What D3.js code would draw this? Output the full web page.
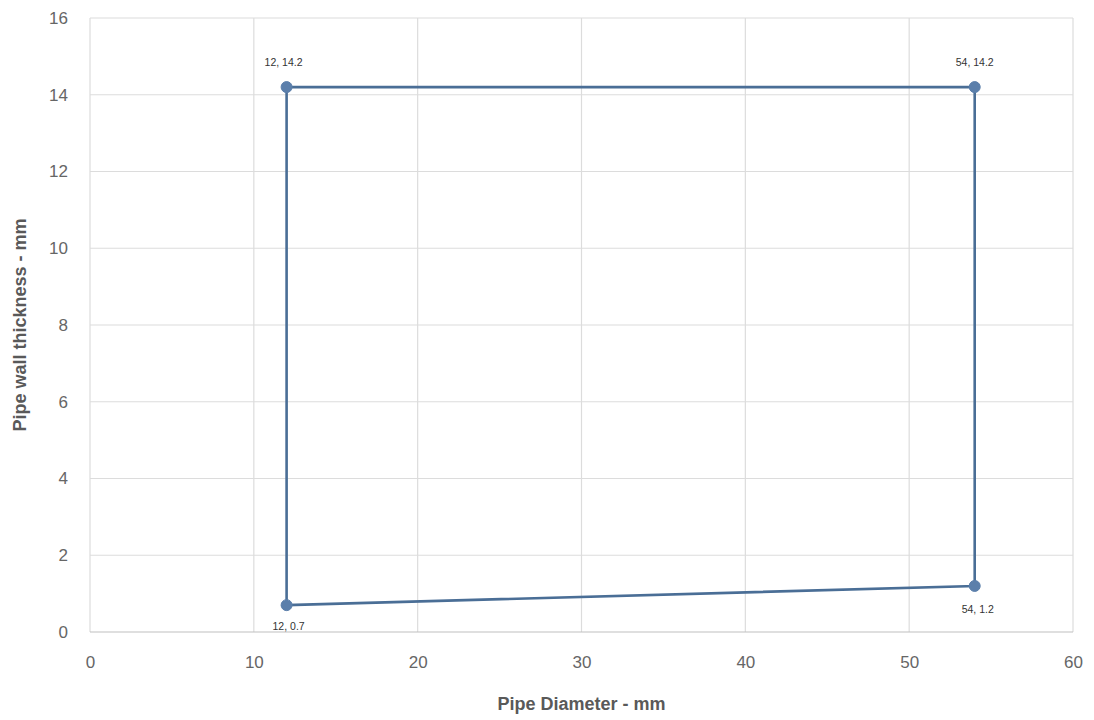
<!DOCTYPE html>
<html><head><meta charset="utf-8">
<script src="https://cdn.jsdelivr.net/npm/d3@7"></script>
<style>
html,body{margin:0;padding:0;background:#fff;}
svg{display:block;font-family:"Liberation Sans","DejaVu Sans",sans-serif;}
</style></head>
<body><svg id="c" width="1094" height="720"></svg>
<script>
const diameters = [12, 12, 54, 54, 12];
const thicknesses = [0.7, 14.2, 14.2, 1.2, 0.7];
const pointLabels = ["12, 0.7", "12, 14.2", "54, 14.2", "54, 1.2"];
const xTicks = [0, 10, 20, 30, 40, 50, 60];
const yTicks = [0, 2, 4, 6, 8, 10, 12, 14, 16];
const xTitle = "Pipe Diameter - mm";
const yTitle = "Pipe wall thickness - mm";

const svg = d3.select("#c");
const L = 90, R = 1073, T = 18, B = 632;
const x = d3.scaleLinear().domain([0, 60]).range([L, R]);
const y = d3.scaleLinear().domain([0, 16]).range([B, T]);

// gridlines
svg.append("g").selectAll("line").data(xTicks).join("line")
  .attr("x1", d => x(d)).attr("x2", d => x(d)).attr("y1", T).attr("y2", B)
  .attr("stroke", "#dcdcdc").attr("stroke-width", 1.2);
svg.append("g").selectAll("line").data(yTicks).join("line")
  .attr("x1", L).attr("x2", R).attr("y1", d => y(d)).attr("y2", d => y(d))
  .attr("stroke", d => d === 0 ? "#bfbfbf" : "#dcdcdc").attr("stroke-width", 1.2);

// axes labels
const xAxis = d3.axisBottom(x).tickValues(xTicks).tickSize(0).tickPadding(24);
const gx = svg.append("g").attr("transform", `translate(0,${B})`).call(xAxis);
gx.select(".domain").remove();
gx.selectAll("text").attr("font-size", 17).attr("fill", "#666").attr("font-family", "Liberation Sans, sans-serif");

const yAxis = d3.axisLeft(y).tickValues(yTicks).tickSize(0).tickPadding(22);
const gy = svg.append("g").attr("transform", `translate(${L},0)`).call(yAxis);
gy.select(".domain").remove();
gy.selectAll("text").attr("font-size", 17).attr("fill", "#666").attr("font-family", "Liberation Sans, sans-serif");

// titles
svg.append("text").attr("x", (L + R) / 2).attr("y", 710).attr("text-anchor", "middle")
  .attr("font-size", 18).attr("font-weight", "bold").attr("fill", "#595959").text(xTitle);
svg.append("text").attr("transform", `translate(26,${(T + B) / 2}) rotate(-90)`).attr("text-anchor", "middle")
  .attr("font-size", 18).attr("font-weight", "bold").attr("fill", "#595959").text(yTitle);

// line
const pts = diameters.map((d, i) => [d, thicknesses[i]]);
svg.append("path").datum(pts)
  .attr("d", d3.line().x(d => x(d[0])).y(d => y(d[1])))
  .attr("fill", "none").attr("stroke", "#4a6e96").attr("stroke-width", 2.6);

const uniq = pts.slice(0, 4);
svg.append("g").selectAll("circle").data(uniq).join("circle")
  .attr("cx", d => x(d[0])).attr("cy", d => y(d[1])).attr("r", 5.5)
  .attr("fill", "#5b7fab").attr("stroke", "#5b7fab");

// data labels
const offsets = [[2, 22], [-3, -24], [0, -24], [3, 24]];
svg.append("g").selectAll("text").data(uniq).join("text")
  .attr("x", (d, i) => x(d[0]) + offsets[i][0])
  .attr("y", (d, i) => y(d[1]) + offsets[i][1])
  .attr("text-anchor", "middle").attr("dominant-baseline", "middle")
  .attr("font-size", 10.5).attr("fill", "#333")
  .text((d, i) => pointLabels[i]);
</script></body></html>
